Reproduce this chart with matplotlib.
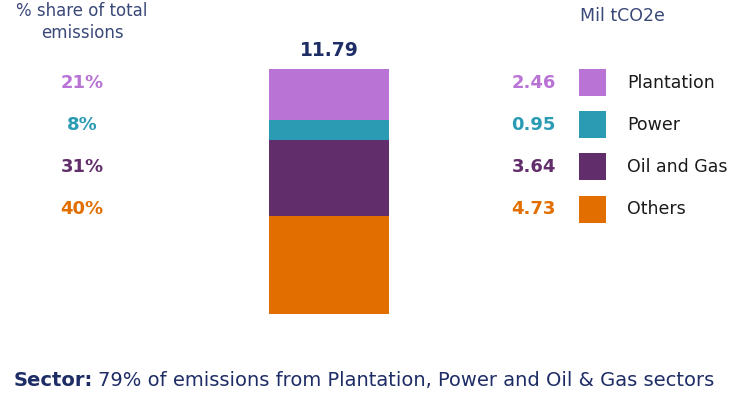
import matplotlib
matplotlib.use('Agg')
import matplotlib.pyplot as plt
from matplotlib.patches import Rectangle

# data, top of the stack first
sectors = ['Plantation', 'Power', 'Oil and Gas', 'Others']
values = [2.46, 0.95, 3.64, 4.73]
shares = ['21%', '8%', '31%', '40%']
total = 11.79
colors = ['#B973D5', '#2B9BB4', '#622D6B', '#E26E00']

navy = '#1F2D66'
plt.rcParams['font.family'] = ['DejaVu Sans']

W, H = 730, 396
fig = plt.figure(figsize=(W / 100, H / 100), dpi=100)

def fx(px):
    return px / W

def fy(py):
    return 1 - py / H

# stacked bar, drawn bottom (Others) to top (Plantation)
ax = fig.add_axes([fx(269), fy(314), fx(120), 245 / H])
bottom = 0
for name, val, col in zip(sectors[::-1], values[::-1], colors[::-1]):
    ax.bar(0, val, width=1.0, bottom=bottom, color=col, linewidth=0)
    bottom += val
ax.set_xlim(-0.5, 0.5)
ax.set_ylim(0, total)
ax.axis('off')

fig.text(fx(329), fy(50), f'{total:.2f}', ha='center', va='center',
         fontsize=13.5, fontweight='bold', color=navy)

# headers
fig.text(fx(82), fy(22), '% share of total\nemissions', ha='center',
         va='center', fontsize=12, color='#3A4878', linespacing=1.25)
fig.text(fx(580), fy(16), 'Mil tCO2e', ha='left', va='center',
         fontsize=12.5, color='#3A4878')

# rows: share, value, swatch, label
row0, step = 82.5, 42.2
for i, (name, val, sh, col) in enumerate(zip(sectors, values, shares, colors)):
    yc = row0 + i * step
    fig.text(fx(82), fy(yc), sh, ha='center', va='center', fontsize=13,
             fontweight='bold', color=col)
    fig.text(fx(556), fy(yc), f'{val:.2f}', ha='right', va='center',
             fontsize=13, fontweight='bold', color=col)
    fig.patches.append(Rectangle((fx(579), fy(yc + 13.5)), fx(27), 27 / H,
                                 transform=fig.transFigure, color=col,
                                 linewidth=0))
    fig.text(fx(627), fy(yc), name, ha='left', va='center', fontsize=12.5,
             color='#1A1A1A')

# footnote: bold lead-in, then regular text right after it
renderer = fig.canvas.get_renderer()
note_size = 14
lead = fig.text(fx(14), fy(380), 'Sector:', ha='left', va='center',
                fontsize=note_size, fontweight='bold', color=navy)
lead_w = lead.get_window_extent(renderer).width
fig.text(fx(14) + (lead_w + 5) / W, fy(380),
         '79% of emissions from Plantation, Power and Oil & Gas sectors',
         ha='left', va='center', fontsize=note_size, color=navy)

fig.savefig('out.png', dpi=100)
